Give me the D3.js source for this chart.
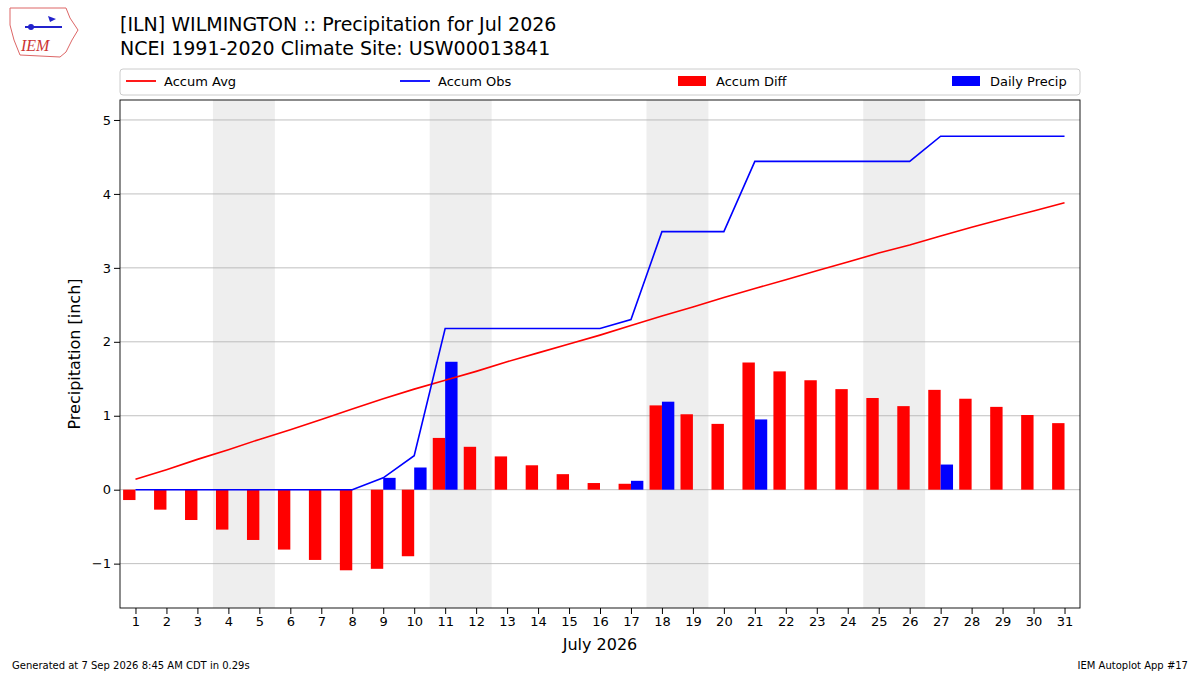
<!DOCTYPE html>
<html><head><meta charset="utf-8">
<script src="https://cdn.jsdelivr.net/npm/d3@7"></script>
<style>body{margin:0;background:#fff}svg{font-family:"DejaVu Sans",sans-serif}</style>
</head><body><svg id="c" width="1200" height="675"></svg>
<script>
const days = d3.range(1, 32);
const accumAvg = [0.14,0.27,0.41,0.54,0.68,0.81,0.95,1.09,1.23,1.36,1.48,1.60,1.73,1.85,1.97,2.09,2.22,2.35,2.47,2.60,2.72,2.84,2.96,3.08,3.20,3.31,3.43,3.55,3.66,3.77,3.88];
const accumObs = [0,0,0,0,0,0,0,0,0.16,0.46,2.18,2.18,2.18,2.18,2.18,2.18,2.30,3.49,3.49,3.49,4.44,4.44,4.44,4.44,4.44,4.44,4.78,4.78,4.78,4.78,4.78];
const accumDiff = [-0.14,-0.27,-0.41,-0.54,-0.68,-0.81,-0.95,-1.09,-1.07,-0.90,0.70,0.58,0.45,0.33,0.21,0.09,0.08,1.14,1.02,0.89,1.72,1.60,1.48,1.36,1.24,1.13,1.35,1.23,1.12,1.01,0.90];
const dailyPrecip = [0,0,0,0,0,0,0,0,0.16,0.30,1.73,0,0,0,0,0,0.12,1.19,0,0,0.95,0,0,0,0,0,0.34,0,0,0,0];
const weekends = [[4,5],[11,12],[18,19],[25,26]];
const yTicks = [-1,0,1,2,3,4,5];

const svg = d3.select("#c");
const L=120,R=1080,T=100,B=608;
const x = d3.scaleLinear().domain([0.5,31.5]).range([L,R]);
const y = d3.scaleLinear().domain([-1.6,5.27]).range([B,T]);
const bw = x(1.4)-x(1);

svg.selectAll(".wk").data(weekends).join("rect")
  .attr("x",d=>x(d[0]-0.5)).attr("width",d=>x(d[1]+0.5)-x(d[0]-0.5))
  .attr("y",T).attr("height",B-T).attr("fill","#eeeeee");
svg.selectAll(".gr").data(yTicks).join("line")
  .attr("x1",L).attr("x2",R).attr("y1",d=>y(d)).attr("y2",d=>y(d))
  .attr("stroke","#b0b0b0").attr("stroke-width",0.8);

svg.selectAll(".df").data(days).join("rect")
  .attr("x",d=>x(d)-bw).attr("width",bw)
  .attr("y",(d,i)=>y(Math.max(0,accumDiff[i]))).attr("height",(d,i)=>Math.abs(y(accumDiff[i])-y(0)))
  .attr("fill","red");
svg.selectAll(".dp").data(days.filter((d,i)=>dailyPrecip[i]>0)).join("rect")
  .attr("x",d=>x(d)).attr("width",bw)
  .attr("y",d=>y(dailyPrecip[d-1])).attr("height",d=>y(0)-y(dailyPrecip[d-1]))
  .attr("fill","blue");

const line = arr => d3.line().x((d,i)=>x(days[i])).y(d=>y(d))(arr);
svg.append("path").attr("d",line(accumAvg)).attr("fill","none").attr("stroke","red").attr("stroke-width",1.6);
svg.append("path").attr("d",line(accumObs)).attr("fill","none").attr("stroke","blue").attr("stroke-width",1.6);

svg.append("rect").attr("x",L).attr("y",T).attr("width",R-L).attr("height",B-T).attr("fill","none").attr("stroke","#000").attr("stroke-width",0.9);

const xa = svg.append("g").attr("transform",`translate(0,${B})`).call(d3.axisBottom(x).tickValues(days).tickFormat(d3.format("d")).tickSizeOuter(0));
const ya = svg.append("g").attr("transform",`translate(${L},0)`).call(d3.axisLeft(y).tickValues(yTicks).tickFormat(d=>d<0?"\u2212"+(-d):d).tickSizeOuter(0));
[xa,ya].forEach(a=>{a.select(".domain").remove();a.selectAll("text").attr("font-size",13).attr("fill","#000").attr("font-family","DejaVu Sans");a.selectAll("line").attr("stroke","#000");});

svg.append("text").attr("x",600).attr("y",650).attr("text-anchor","middle").attr("font-size",16).text("July 2026");
svg.append("text").attr("transform",`translate(80,${(T+B)/2}) rotate(-90)`).attr("text-anchor","middle").attr("font-size",16).text("Precipitation [inch]");

svg.append("text").attr("x",120).attr("y",31).attr("font-size",19).text("[ILN] WILMINGTON :: Precipitation for Jul 2026");
svg.append("text").attr("x",120).attr("y",55).attr("font-size",19).text("NCEI 1991-2020 Climate Site: USW00013841");

// legend
const lg = svg.append("g");
lg.append("rect").attr("x",120).attr("y",69).attr("width",960).attr("height",26).attr("rx",3).attr("fill","#fff").attr("stroke","#ccc");
const items=[{t:"Accum Avg",c:"red",k:"l",x:126},{t:"Accum Obs",c:"blue",k:"l",x:400},{t:"Accum Diff",c:"red",k:"b",x:678},{t:"Daily Precip",c:"blue",k:"b",x:952}];
items.forEach(it=>{
  if(it.k==="l") lg.append("line").attr("x1",it.x).attr("x2",it.x+30).attr("y1",81).attr("y2",81).attr("stroke",it.c).attr("stroke-width",1.8);
  else lg.append("rect").attr("x",it.x).attr("y",76).attr("width",28).attr("height",10).attr("fill",it.c);
  lg.append("text").attr("x",it.x+38).attr("y",86).attr("font-size",13).text(it.t);
});

svg.append("text").attr("x",12).attr("y",669).attr("font-size",10).text("Generated at 7 Sep 2026 8:45 AM CDT in 0.29s");
svg.append("text").attr("x",1188).attr("y",669).attr("font-size",10).attr("text-anchor","end").text("IEM Autoplot App #17");

// logo
const lo = svg.append("g");
lo.append("path").attr("d","M10,8 L66,8 L70,18 L78,30 L72,40 L66,52 L60,57 L20,55 L14,40 L10,25 Z").attr("fill","none").attr("stroke","#d66").attr("stroke-width",1);
lo.append("line").attr("x1",25).attr("x2",62).attr("y1",27).attr("y2",27).attr("stroke","#22c").attr("stroke-width",2);
lo.append("circle").attr("cx",31).attr("cy",27).attr("r",3).attr("fill","#22c");
lo.append("path").attr("d","M48,16 l8,3 l-6,3 z").attr("fill","#22c");
lo.append("text").attr("x",21).attr("y",51).attr("font-size",16).attr("font-style","italic").attr("font-family","Liberation Serif").attr("fill","#c33").text("IEM");
</script></body></html>
